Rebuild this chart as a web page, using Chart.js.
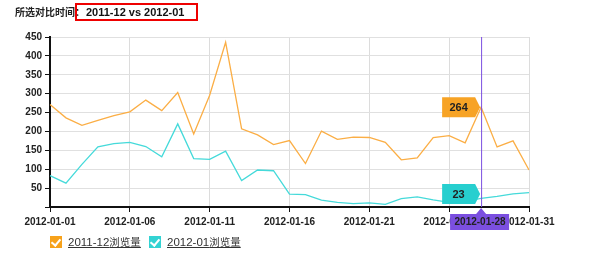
<!DOCTYPE html>
<html>
<head>
<meta charset="utf-8">
<script src="https://cdn.jsdelivr.net/npm/chart.js@4/dist/chart.umd.min.js"></script>
<style>
  body { margin: 0; background: #fff; font-family: Arial, "Noto Sans CJK SC", sans-serif; }
  #wrap { position: relative; width: 590px; height: 270px; overflow: hidden; }
  #chart { position: absolute; left: 0; top: 0; }
  .title { position: absolute; left: 15px; top: 4px; font-size: 10px; font-weight: bold; color: #222; line-height: 15px; font-family: "Noto Sans CJK SC", sans-serif; }
  .range { position: absolute; left: 75px; top: 3px; width: 119px; height: 14px; border: 2px solid #e00; font: bold 11px Arial, sans-serif; color: #111; line-height: 14px; padding-left: 9px; box-sizing: content-box; width: 110px; }
  .legend { position: absolute; top: 235px; font-size: 11px; color: #333; text-decoration: underline; line-height: 13px; white-space: nowrap; }
  .legend b { font-weight: normal; font-family: "Liberation Sans Narrow", Arial, sans-serif; font-size: 11.5px; }
  .legend em { font-style: normal; font-family: "Noto Sans CJK SC", sans-serif; font-size: 10.5px; }
  .legend i { display: inline-block; width: 12px; height: 12px; vertical-align: -2px; margin-right: 6px; position: relative; }
  .legend i::after { content: ""; position: absolute; left: 3px; top: 1px; width: 4px; height: 7px; border: solid #fff; border-width: 0 2px 2px 0; transform: rotate(40deg); }
</style>
</head>
<body>
<div id="wrap">
  <canvas id="chart" width="590" height="270"></canvas>
  <div class="title">所选对比时间：</div>
  <div class="range">2011-12 vs 2012-01</div>
  <div class="legend" style="left:50px"><i style="background:#f7a21b"></i><b>2011-12</b><em>浏览量</em></div>
  <div class="legend" style="left:149px"><i style="background:#33d3d3"></i><b>2012-01</b><em>浏览量</em></div>
</div>
<script>
// 日期 (2012-01-01 .. 2012-01-31)
const days = [];
for (let d = 1; d <= 31; d++) days.push('2012-01-' + String(d).padStart(2, '0'));

// 2011-12 浏览量
const viewsDec = [271,236,216,229,242,252,283,255,303,193,296,436,207,191,165,176,115,201,179,185,184,171,125,130,184,189,170,264,159,175,98];
// 2012-01 浏览量
const viewsJan = [83,63,113,159,168,171,160,133,220,128,126,148,70,98,96,34,33,18,12,9,11,7,22,27,19,12,15,23,28,35,38];

const hoverIndex = 27;
const colors = { dec: '#fbae45', jan: '#45dada', decBox: '#f7a325', janBox: '#27cfcf', cross: '#7b4fe0' };
const tickFont = { family: '"Liberation Sans Narrow", Arial', size: 10, weight: 'bold' };

// 悬停提示 (十字线 + 标签)
const hoverPlugin = {
    id: 'hover',
    afterDraw(chart) {
        const c = chart.ctx, x = chart.scales.x, y = chart.scales.y;
        const area = chart.chartArea;
        const px = x.getPixelForValue(hoverIndex);
        c.save();
        c.strokeStyle = colors.cross;
        c.lineWidth = 1;
        c.beginPath();
        c.moveTo(px + 0.5, area.top);
        c.lineTo(px + 0.5, area.bottom);
        c.stroke();

        function box(val, py, fill) {
            const w = 33, h = 20;
            const bx = px - 6 - w;
            c.fillStyle = fill;
            c.beginPath();
            c.moveTo(bx, py - h / 2);
            c.lineTo(bx + w, py - h / 2);
            c.lineTo(px - 1, py);
            c.lineTo(bx + w, py + h / 2);
            c.lineTo(bx, py + h / 2);
            c.closePath();
            c.fill();
            c.fillStyle = '#222';
            c.font = 'bold 11px Arial';
            c.textAlign = 'center';
            c.textBaseline = 'middle';
            c.fillText(String(val), bx + w / 2, py + 1);
        }
        const pDec = y.getPixelForValue(viewsDec[hoverIndex]);
        const pJan = Math.min(y.getPixelForValue(viewsJan[hoverIndex]), area.bottom - 13);
        box(viewsDec[hoverIndex], pDec, colors.decBox);
        box(viewsJan[hoverIndex], pJan, colors.janBox);

        // x 轴标签
        const top = area.bottom + 7;
        c.fillStyle = colors.cross;
        c.beginPath();
        c.moveTo(px - 31, top);
        c.lineTo(px - 5, top);
        c.lineTo(px, area.bottom + 1);
        c.lineTo(px + 5, top);
        c.lineTo(px + 28, top);
        c.lineTo(px + 28, top + 16);
        c.lineTo(px - 31, top + 16);
        c.closePath();
        c.fill();
        c.fillStyle = '#222';
        c.font = 'bold 10px "Liberation Sans Narrow", Arial';
        c.textAlign = 'center';
        c.textBaseline = 'middle';
        c.fillText(days[hoverIndex], px - 1, top + 8);
        c.restore();
    }
};

const ctx = document.querySelector('#chart').getContext('2d');
new Chart(ctx, {
    type: 'line',
    data: {
        labels: days,
        datasets: [
            { label: '2011-12浏览量', data: viewsDec, borderColor: colors.dec, borderWidth: 1.3, pointRadius: 0, tension: 0 },
            { label: '2012-01浏览量', data: viewsJan, borderColor: colors.jan, borderWidth: 1.3, pointRadius: 0, tension: 0 }
        ]
    },
    options: {
        responsive: false,
        animation: false,
        layout: { padding: { top: 37, right: 61, left: 0, bottom: 0 } },
        plugins: { legend: { display: false }, tooltip: { enabled: false } },
        scales: {
            x: {
                afterFit: s => { s.height = 63; },
                border: { color: '#111', width: 2 },
                grid: {
                    color: c => c.index % 5 === 0 ? '#dcdcdc' : 'transparent',
                    tickColor: c => c.index % 5 === 0 ? '#111' : 'transparent',
                    tickLength: 5
                },
                ticks: {
                    autoSkip: false, maxRotation: 0, padding: 4,
                    color: '#222', font: tickFont,
                    callback: (v, i) => i % 5 === 0 ? days[i] : ''
                }
            },
            y: {
                min: 0, max: 450,
                afterFit: s => { s.width = 50; },
                border: { color: '#111', width: 2 },
                grid: { color: '#e0e0e0', tickColor: '#111', tickLength: 5 },
                ticks: {
                    stepSize: 50, padding: 3,
                    color: '#222', font: tickFont,
                    callback: v => v === 0 ? '' : v
                }
            }
        }
    },
    plugins: [hoverPlugin]
});
</script>
</body>
</html>
